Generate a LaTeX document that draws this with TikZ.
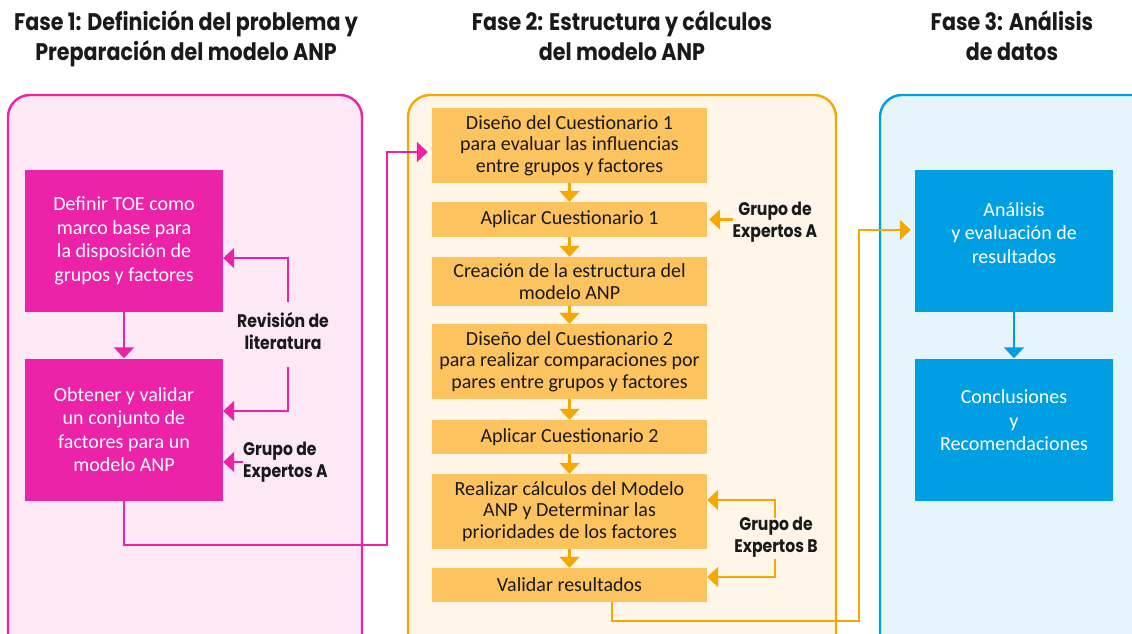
\documentclass[tikz,border=0pt]{standalone}
\usepackage{fontspec}
\setmainfont{Carlito}
\newfontfamily\titlef{Poppins}[FakeStretch=0.86]
\usetikzlibrary{arrows.meta,calc}
\definecolor{pinkD}{HTML}{EC22A8}
\definecolor{pinkL}{HTML}{FDE8F6}
\definecolor{orgD}{HTML}{F5A800}
\definecolor{orgBox}{HTML}{FCC35F}
\definecolor{orgL}{HTML}{FFF6E9}
\definecolor{bluD}{HTML}{009FE3}
\definecolor{bluL}{HTML}{E6F4FC}
\definecolor{txtD}{HTML}{1A1A1A}
\tikzset{
  panel/.style={line width=2.4pt, rounded corners=22pt},
  box/.style={inner sep=0pt, align=center, minimum width=198pt, minimum height=142pt,
    text=white, font=\fontsize{20}{23.5}\selectfont},
  pbox/.style={box, fill=pinkD},
  bbox/.style={box, fill=bluD},
  btxt/.style={inner sep=0pt, align=center, text=white, font=\fontsize{20}{23.5}\selectfont},
  obox/.style={inner sep=0pt, align=center, minimum width=275pt, fill=orgBox,
    text=txtD, font=\fontsize{20}{21.3}\selectfont},
  ttl/.style={align=center, inner sep=0pt, text=txtD,
    font=\titlef\bfseries\fontsize{24}{30}\selectfont},
  lbl/.style={inner sep=0pt, text=txtD, font=\titlef\bfseries\fontsize{18.2}{21.5}\selectfont},
  arr/.style={line width=2.2pt, -{Triangle[width=20pt,length=11pt]}},
  parr/.style={arr, draw=pinkD},
  oarr/.style={arr, draw=orgD},
  barr/.style={arr, draw=bluD},
}
\begin{document}
\begin{tikzpicture}[x=1pt,y=-1pt]
\useasboundingbox (0,0) rectangle (1132,634);
\clip (0,0) rectangle (1132,634);
% titles
\node[ttl, anchor=base] (t1) at (186,61) {Fase 1: Definición del problema y\\Preparación del modelo ANP};
\node[ttl, anchor=base] (t2) at (622,61) {Fase 2: Estructura y cálculos\\del modelo ANP};
\node[ttl, anchor=base] (t3) at (1012,61) {Fase 3: Análisis\\de datos};
% panels
\draw[panel, draw=pinkD, fill=pinkL] (8,95) rectangle (362,660);
\draw[panel, draw=orgD, fill=orgL] (408,95) rectangle (836,660);
\draw[panel, draw=bluD, fill=bluL] (880,95) rectangle (1160,660);
% left boxes
\node[pbox] (l1) at (124,241) {Definir TOE como\\marco base para\\la disposición de\\grupos y factores};
\node[pbox] (l2) at (124,429.5) {Obtener y validar\\un conjunto de\\factores para un\\modelo ANP};
\node[lbl, align=center] (rev) at (283,331) {Revisión de\\literatura};
\node[lbl, align=left, anchor=west] (gA1) at (243,462) {Grupo de\\Expertos A};
% middle boxes
\node[obox, minimum height=75pt] (m1) at (569.5,145.5) {Diseño del Cuestionario 1\\para evaluar las influencias\\entre grupos y factores};
\node[obox, minimum height=35pt] (m2) at (569.5,219.5) {Aplicar Cuestionario 1};
\node[obox, minimum height=49pt] (m3) at (569.5,281.5) {Creación de la estructura del\\modelo ANP};
\node[obox, minimum height=75pt] (m4) at (569.5,361.5) {Diseño del Cuestionario 2\\para realizar comparaciones por\\pares entre grupos y factores};
\node[obox, minimum height=34pt] (m5) at (569.5,437) {Aplicar Cuestionario 2};
\node[obox, minimum height=75pt] (m6) at (569.5,511.5) {Realizar cálculos del Modelo\\ANP y Determinar las\\prioridades de los factores};
\node[obox, minimum height=34pt] (m7) at (569.5,585) {Validar resultados};
\node[lbl, align=center] (gA2) at (775,222) {Grupo de\\Expertos A};
\node[lbl, align=center] (gB) at (776,537) {Grupo de\\Expertos B};
% right boxes
\node[bbox] (r1) at (1014,241) {};
\node[btxt] (r1t) at (1014,233) {Análisis\\y evaluación de\\resultados};
\node[bbox] (r2) at (1014,429.5) {};
\node[btxt] (r2t) at (1014,420.5) {Conclusiones\\y\\Recomendaciones};
% helper coordinates
\coordinate (rt) at (288,302);
\coordinate (rb) at (288,367);
\coordinate (bt) at (775,518);
\coordinate (bb) at (775,559);
\coordinate (c1) at (387,545);
\coordinate (c2) at (859,621);
% left connectors
\draw[parr] (l1) -- (l2);
\draw[parr] (rt) |- ([yshift=-17pt]l1.east);
\draw[parr] (rb) |- ([yshift=18.5pt]l2.east);
\draw[parr] (gA1.west) -- (l2.east |- gA1.west);
\draw[parr] (l2.south) |- (c1) |- ([yshift=-6.5pt,xshift=-4pt]m1.west);
% middle connectors
\draw[oarr] (m1) -- (m2);
\draw[oarr] (m2) -- (m3);
\draw[oarr] (m3) -- (m4);
\draw[oarr] (m4) -- (m5);
\draw[oarr] (m5) -- (m6);
\draw[oarr] (m6) -- (m7);
\draw[oarr] (gA2.west |- m2.east) -- ([xshift=2pt]m2.east);
\draw[oarr] (bt) |- ([yshift=11.5pt]m6.east);
\draw[oarr] (bb) |- ([yshift=8pt]m7.east);
\draw[oarr] ([xshift=42.5pt]m7.south) |- (c2) |- ([yshift=11pt,xshift=-4pt]r1.west);
% right connector
\draw[barr] (r1) -- (r2);
\end{tikzpicture}
\end{document}
